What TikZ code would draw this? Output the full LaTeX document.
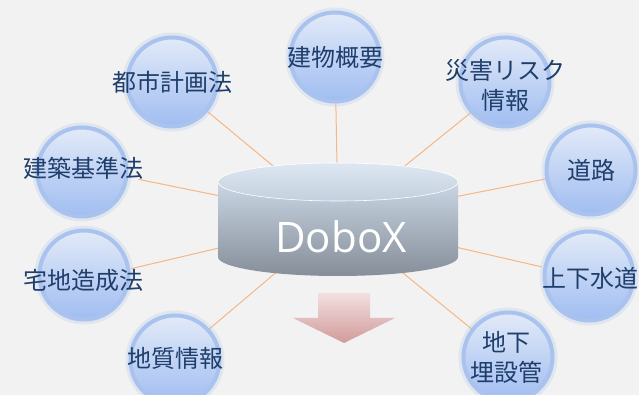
\documentclass[tikz,border=0pt]{standalone}
\usepackage{fontspec}
\setmainfont{Noto Sans CJK JP}
\newfontfamily\doboFont{Open Sans}
\usepackage{tikz}
\pgfdeclarelayer{back}
\pgfsetlayers{back,main}
\definecolor{bgGray}{HTML}{F2F2F2}
\definecolor{spokeOrange}{HTML}{F6B784}
\definecolor{topicBlue}{HTML}{1F3E6B}
\definecolor{bubbleTop}{HTML}{E2EAF8}
\definecolor{bubbleBottom}{HTML}{A0BDF1}
\definecolor{bubbleRim}{HTML}{A9C3EE}
\definecolor{drumTop}{HTML}{DDE7F2}
\definecolor{drumLid}{HTML}{C4D0DE}
\definecolor{drumSide}{HTML}{CAD6E4}
\definecolor{drumBase}{HTML}{858E99}
\definecolor{arrowTop}{HTML}{F2E0E0}
\definecolor{arrowTip}{HTML}{D29A9A}
\newcommand{\topicSize}[0]{24}

\begin{document}
\begin{tikzpicture}[x=1pt, y=1pt]
  \tikzset{
    bubble/.style={circle, minimum size=89pt, inner sep=0pt,
      top color=bubbleTop, bottom color=bubbleBottom,
      draw=bubbleRim, line width=4pt,
      preaction={draw=bubbleRim, line width=10pt, draw opacity=0.25}},
    topic/.style={align=center, inner sep=0pt, text=topicBlue,
      font=\fontsize{\topicSize}{30}\selectfont},
    spoke/.style={draw=spokeOrange, line width=1pt}
  }
  \begin{pgfonlayer}{back}
    \fill[bgGray] (0,0) rectangle (639,395);
  \end{pgfonlayer}
  \useasboundingbox (0,0) rectangle (639,395);

  % topics round the database
  \node[bubble] (toshi) at (172,313) {};
  \node[topic] (toshiText) at (toshi) {都市計画法};
  \node[bubble] (tatemono) at (335,338) {};
  \node[topic] (tatemonoText) at (tatemono) {建物概要};
  \node[bubble] (saigai) at (505,313) {};
  \node[topic] (saigaiText) at (505,310) {災害リスク\\情報};
  \node[bubble] (douro) at (591,225) {};
  \node[topic] (douroText) at (douro) {道路};
  \node[bubble] (gesui) at (589,119) {};
  \node[topic] (gesuiText) at (590,117) {上下水道};
  \node[bubble] (maisetsu) at (508,38) {};
  \node[topic] (maisetsuText) at (506,38) {地下\\埋設管};
  \node[bubble] (chishitsu) at (175,35) {};
  \node[topic] (chishitsuText) at (175,37) {地質情報};
  \node[bubble] (takuchi) at (84,120) {};
  \node[topic] (takuchiText) at (83,115) {宅地造成法};
  \node[bubble] (kenchiku) at (82,223) {};
  \node[topic] (kenchikuText) at (83,227) {建築基準法};

  % database drum
  \coordinate (hub) at (338,175);
  \path[top color=drumSide, bottom color=drumBase]
    (218,213) -- (218,138)
    arc[start angle=180, end angle=360, x radius=120, y radius=19]
    -- (458,213) -- cycle;
  \path[top color=drumTop, bottom color=drumLid, draw=white, line width=0.6pt]
    (338,213) ellipse[x radius=120, y radius=19];
  \node[text=white, font=\doboFont\fontsize{42}{42}\selectfont] (dobox) at (341,158) {DoboX};

  % output arrow
  \path[top color=arrowTop, bottom color=arrowTip]
    (318,102) -- (370,102) -- (370,77) -- (395,77) -- (344,52)
    -- (293,77) -- (318,77) -- cycle;

  \begin{pgfonlayer}{back}
    \foreach \t in {toshiText, tatemonoText, saigaiText, douroText, gesuiText,
                    maisetsuText, chishitsuText, takuchiText, kenchikuText}
      \draw[spoke] (hub) -- (\t);
  \end{pgfonlayer}
\end{tikzpicture}
\end{document}
